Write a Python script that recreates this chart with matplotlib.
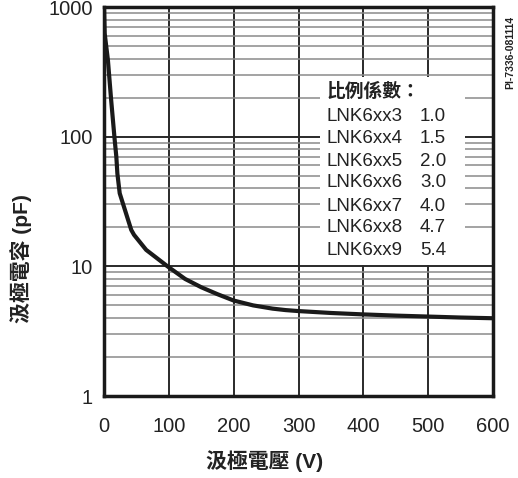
import matplotlib
matplotlib.use('Agg')
import matplotlib.pyplot as plt
from matplotlib.patches import Rectangle
from matplotlib.ticker import LogLocator, NullFormatter

# 曲線資料 (汲極電壓 V, 汲極電容 pF)
voltage = [0, 1, 6, 11, 16.5, 19, 20.6, 24.2, 42, 46.3, 65, 98, 125, 150, 175, 200, 230, 260, 280, 300, 350, 400, 450, 500, 550, 600]
capacitance = [1000, 627, 390, 192, 94, 70, 52, 36.6, 19.1, 17.5, 13.4, 10, 8.0, 6.9, 6.1, 5.45, 5.0, 4.72, 4.6, 4.52, 4.37, 4.26, 4.17, 4.1, 4.03, 3.98]

parts = ['LNK6xx3', 'LNK6xx4', 'LNK6xx5', 'LNK6xx6', 'LNK6xx7', 'LNK6xx8', 'LNK6xx9']
factors = ['1.0', '1.5', '2.0', '3.0', '4.0', '4.7', '5.4']

x_ticks = [0, 100, 200, 300, 400, 500, 600]
y_ticks = [1, 10, 100, 1000]
y_labels = ['1', '10', '100', '1000']

fonts = ['Liberation Sans', 'Noto Sans CJK TC', 'DejaVu Sans']
plt.rcParams['font.family'] = fonts

fig = plt.figure(figsize=(5.18, 4.78), dpi=100)
ax = fig.add_axes([0.2008, 0.1715, 0.751, 0.8138])

ax.set_yscale('log')
ax.set_xlim(0, 600)
ax.set_ylim(1, 1000)

ax.set_xticks(x_ticks)
ax.set_xticklabels([str(v) for v in x_ticks])
ax.set_yticks(y_ticks)
ax.set_yticklabels(y_labels)
ax.yaxis.set_minor_locator(LogLocator(base=10, subs=range(2, 10)))
ax.yaxis.set_minor_formatter(NullFormatter())
ax.tick_params(which='both', length=0, labelsize=14.5, colors='#222222')
ax.tick_params(axis='x', pad=15)
ax.tick_params(axis='y', pad=8)

# 網格
ax.grid(True, which='major', axis='both', color='#2a2a2a', lw=1.4, zorder=1)
ax.grid(True, which='minor', axis='y', color='#8a8a8a', lw=1.1, zorder=1)
ax.set_axisbelow(True)

for s in ax.spines.values():
    s.set_linewidth(2.5)
    s.set_color('#1a1a1a')

# 比例係數框 (白底遮住網格)
ax.add_patch(Rectangle((0.555, 0.337), 0.373, 0.483, transform=ax.transAxes,
                       facecolor='white', edgecolor='none', zorder=2))

ax.plot(voltage, capacitance, color='#1a1a1a', lw=3, zorder=3, solid_capstyle='butt')

ax.text(0.573, 0.782, '比例係數：', transform=ax.transAxes, fontsize=13.5,
        fontweight='bold', va='center', ha='left', color='#222222', zorder=4)
row_y = [0.718, 0.661, 0.603, 0.548, 0.488, 0.432, 0.374]
for p, f, yy in zip(parts, factors, row_y):
    ax.text(0.573, yy, p, transform=ax.transAxes, fontsize=13.5,
            va='center', ha='left', color='#222222', zorder=4)
    ax.text(0.812, yy, f, transform=ax.transAxes, fontsize=13.5,
            va='center', ha='left', color='#222222', zorder=4)

fig.text(0.51, 0.0356, '汲極電壓 (V)', fontsize=15, fontweight='bold',
         ha='center', va='center', color='#222222')
fig.text(0.04, 0.46, '汲極電容 (pF)', fontsize=15, fontweight='bold', rotation=90,
         ha='center', va='center', color='#222222')

fig.text(0.985, 0.89, 'PI-7336-081114', rotation=90, fontsize=7.5, fontweight='bold',
         ha='center', va='center', color='#222222')

fig.savefig('out.png', dpi=100)
